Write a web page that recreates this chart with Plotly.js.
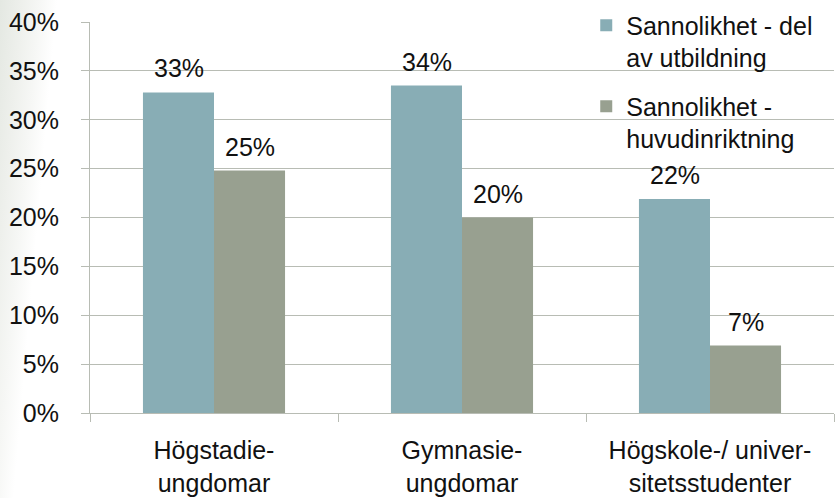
<!DOCTYPE html>
<html>
<head>
<meta charset="utf-8">
<script src="https://cdn.plot.ly/plotly-3.0.1.min.js"></script>
<style>
html, body { margin:0; padding:0; }
body { width:836px; height:498px; background: linear-gradient(95deg, #e4e8e2 0%, #eef0ec 2.5%, #f6f7f5 4.5%, #ffffff 6.5%); }
#chart { width:836px; height:498px; }
</style>
</head>
<body>
<div id="chart"></div>
<script>
const categories = ["Högstadie-<br>ungdomar", "Gymnasie-<br>ungdomar", "Högskole-/ univer-<br>sitetsstudenter"];
const seriesNames = ["Sannolikhet - del<br>av utbildning", "Sannolikhet -<br>huvudinriktning"];
const delAvUtbildning = [32.8, 33.5, 21.9];
const huvudinriktning = [24.8, 20.0, 6.9];
const yTickVals = [0, 5, 10, 15, 20, 25, 30, 35, 40];
const yTickText = ["0%", "5%", "10%", "15%", "20%", "25%", "30%", "35%", "40%"];
const colors = ["#88adb5", "#98a090"];

const FONT = "Liberation Sans, Arial, sans-serif";
const FS = 25;
const series = [delAvUtbildning, huvudinriktning];

const traces = series.map((vals, i) => ({
  type: "bar",
  x: categories,
  y: vals,
  name: seriesNames[i],
  legendgroup: "g" + i,
  marker: { color: colors[i], line: { width: 0 } },
  hoverinfo: "skip"
}));

const annotations = [];
series.forEach((vals, i) => {
  vals.forEach((v, j) => {
    annotations.push({
      x: categories[j], y: v, xref: "x", yref: "y",
      text: Math.round(v) + "%",
      showarrow: false,
      yanchor: "bottom",
      xshift: i === 0 ? -35.5 : 35.5,
      yshift: 8,
      font: { family: FONT, size: FS, color: "#111" }
    });
  });
});

const layout = {
  width: 836, height: 498,
  margin: { l: 90, r: 2, t: 22, b: 85 },
  paper_bgcolor: "rgba(0,0,0,0)",
  plot_bgcolor: "rgba(0,0,0,0)",
  barmode: "group",
  bargap: 0.427,
  bargroupgap: 0,
  font: { family: FONT, size: FS, color: "#111" },
  showlegend: true,
  legend: {
    x: 0.667, xanchor: "left", y: 1.05, yanchor: "top",
    bgcolor: "rgba(0,0,0,0)",
    traceorder: "grouped",
    tracegroupgap: 13,
    valign: "top",
    font: { family: FONT, size: FS, color: "#111" },
    itemclick: false
  },
  xaxis: {
    type: "category",
    tickson: "boundaries",
    ticks: "outside", ticklen: 8, tickcolor: "#b8bcb4", tickwidth: 1,
    showline: true, linecolor: "#b8bcb4", linewidth: 1,
    showgrid: false,
    ticklabelstandoff: 15,
    tickfont: { family: FONT, size: FS, color: "#111" },
    fixedrange: true
  },
  yaxis: {
    range: [0, 40],
    tickvals: yTickVals, ticktext: yTickText,
    ticks: "outside", ticklen: 8, tickcolor: "#b8bcb4", tickwidth: 1,
    showline: true, linecolor: "#b8bcb4", linewidth: 1,
    showgrid: true, gridcolor: "#b8bcb4", gridwidth: 1,
    zeroline: false,
    ticklabelstandoff: 17,
    tickfont: { family: FONT, size: FS, color: "#111" },
    fixedrange: true
  },
  annotations: annotations
};

Plotly.newPlot("chart", traces, layout, { displayModeBar: false, staticPlot: true });
</script>
</body>
</html>
